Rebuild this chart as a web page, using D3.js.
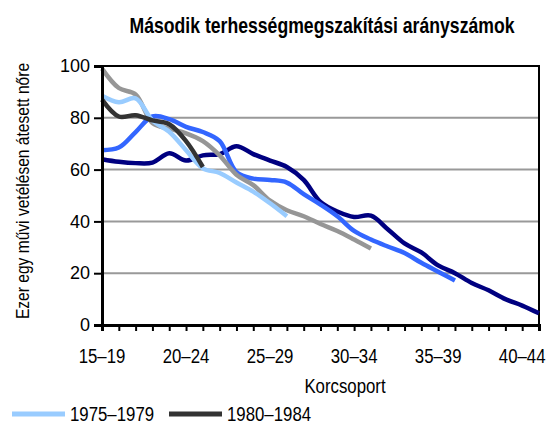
<!DOCTYPE html>
<html>
<head>
<meta charset="utf-8">
<script src="https://cdn.jsdelivr.net/npm/d3@7"></script>
<style>
  body { margin: 0; background: #fff; }
  svg { display: block; }
  text { font-family: "Liberation Sans", Arial, sans-serif; fill: #000; }
</style>
</head>
<body>
<div id="chart"></div>
<script>
// single-year ages on the category axis, labelled every 5 years
const ages = d3.range(15, 42);
const tickAges = [15, 20, 25, 30, 35, 40];
const tickLabels = ["15–19", "20–24", "25–29", "30–34", "35–39", "40–44"];
const yTicks = [0, 20, 40, 60, 80, 100];

const cohorts = ["1960–1964", "1965–1969", "1970–1974", "1975–1979", "1980–1984"];
const c1960 = [64, 63, 62.5, 62.7, 66.3, 63.5, 65.5, 66, 69, 66, 63.5, 61, 56, 47.5, 43.8, 41.7, 42.2, 37, 31.5, 28, 23, 20, 16.2, 13.4, 10, 7.5, 4.5];
const c1965 = [67.5, 68.5, 74.5, 80.5, 79.5, 76.5, 74.5, 71, 59, 56.5, 56, 55, 50.5, 46.5, 42, 36.3, 33, 30.3, 27.8, 24, 20.6, 17.2];
const c1970 = [99, 91.5, 89, 78, 75.8, 74, 71, 65.5, 58, 54, 48, 44.3, 42, 39, 36.3, 33, 29.5];
const c1975 = [88.5, 86, 87.5, 79, 74.6, 67.5, 60.5, 58.7, 55, 51.5, 47, 42];
const c1980 = [87, 80.5, 81, 79, 77.5, 71, 61];
const colors = ["#000080", "#3366ff", "#969696", "#99ccff", "#333333"];

const title = "Második terhességmegszakítási arányszámok";
const yTitle = "Ezer egy művi vetélésen átesett nőre";
const xTitle = "Korcsoport";
const legendItems = [3, 4]; // visible legend entries

const W = 552, H = 425;
const margin = { left: 102, top: 66, right: 13, bottom: 100 };
const w = W - margin.left - margin.right;
const h = H - margin.top - margin.bottom;
const narrow = 0.82; // no Arial Narrow installed, squeeze Liberation Sans

const svg = d3.select("#chart").append("svg")
  .attr("width", W)
  .attr("height", H);

// text squeezed along its own direction
function narrowText(parent, tx, ty, rot, anchor, size, str, bold) {
  const t = parent.append("g")
    .attr("transform", "translate(" + tx + "," + ty + ") rotate(" + rot + ") scale(" + narrow + ",1)")
    .append("text")
    .attr("text-anchor", anchor)
    .style("font-size", size + "px")
    .text(str);
  if (bold) t.style("font-weight", "bold");
  return t;
}

const g = svg.append("g")
  .attr("transform", "translate(" + margin.left + "," + margin.top + ")");

const x = d3.scaleLinear().domain([15, 41]).range([0, w]);
const y = d3.scaleLinear().domain([0, 100]).range([h, 0]);

// gridlines
g.append("g")
  .selectAll("line")
  .data(yTicks.filter(d => d > 0 && d < 100))
  .join("line")
  .attr("x1", 0).attr("x2", w)
  .attr("y1", d => y(d)).attr("y2", d => y(d))
  .attr("stroke", "#999")
  .attr("stroke-width", 2);

// frame top/right
g.append("path")
  .attr("d", "M0," + y(100) + "H" + w + "V" + h)
  .attr("fill", "none")
  .attr("stroke", "#000")
  .attr("stroke-width", 2);

const series = [c1960, c1965, c1970, c1975, c1980];
const line = d3.line()
  .x((d, i) => x(ages[i]))
  .y(d => y(d))
  .curve(d3.curveCatmullRom.alpha(0.5));

g.append("g")
  .selectAll("path")
  .data(series)
  .join("path")
  .attr("d", d => line(d))
  .attr("fill", "none")
  .attr("stroke", (d, i) => colors[i])
  .attr("stroke-width", 4.5)
  .attr("stroke-linejoin", "round");

// y axis
const yAxis = g.append("g")
  .call(d3.axisLeft(y).tickValues(yTicks).tickSize(8).tickPadding(4));
yAxis.select(".domain").attr("stroke-width", 3);
yAxis.selectAll(".tick line").attr("stroke-width", 2);
yAxis.selectAll("text")
  .style("font-size", "18px");

// x axis: small ticks every year, labels every 5 years
const xAxis = g.append("g")
  .attr("transform", "translate(0," + h + ")")
  .call(d3.axisBottom(x).tickValues(ages).tickSize(6).tickFormat(""));
xAxis.select(".domain").attr("stroke-width", 3);
xAxis.selectAll(".tick line").attr("stroke-width", 2);

const xLabels = g.append("g");
tickAges.forEach((a, i) => {
  narrowText(xLabels, x(a), h + 38, 0, "middle", 20.5, tickLabels[i]);
});

narrowText(svg, 322, 33, 0, "middle", 21.5, title, true);
narrowText(svg, 345, 393, 0, "middle", 20.5, xTitle);
narrowText(svg, 29, 191, -90, "middle", 19, yTitle);

// legend
const legend = svg.append("g");
const lx = [12, 169];
legendItems.forEach((k, j) => {
  legend.append("line")
    .attr("x1", lx[j]).attr("x2", lx[j] + 53)
    .attr("y1", 414).attr("y2", 414)
    .attr("stroke", colors[k])
    .attr("stroke-width", 5);
  narrowText(legend, lx[j] + 58, 421, 0, "start", 20.5, cohorts[k]);
});
</script>
</body>
</html>
